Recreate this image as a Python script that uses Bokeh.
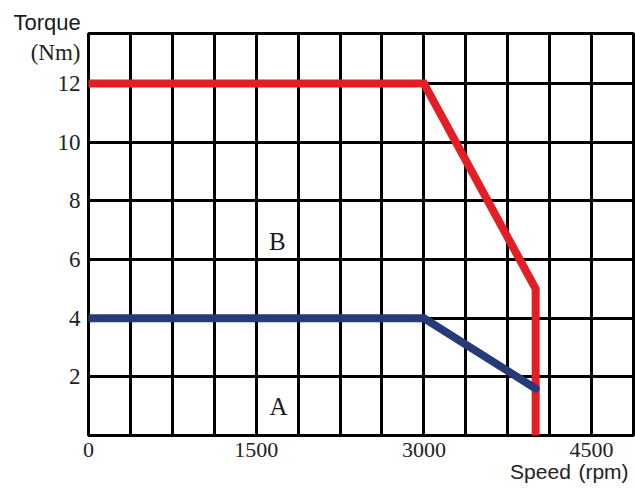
from bokeh.plotting import figure
from bokeh.models import FixedTicker, Range1d, LinearAxis, Title
from bokeh.embed import file_html
from bokeh.resources import INLINE

# Data
speed_b_curve = [0, 3000, 4000, 4000]      # red curve (B boundary)
torque_b_curve = [12, 12, 5, 0]
speed_a_curve = [0, 3000, 4000]            # blue curve (A boundary)
torque_a_curve = [4, 4, 1.6]

x_tick_values = [0, 1500, 3000, 4500]
y_tick_values = [2, 4, 6, 8, 10, 12]
x_grid_step = 375
x_max = 4875
y_max = 13.7

y_unit_label = "(Nm)"
y_unit_pos = 13.05
x_name_labels = {4043: "Speed", 4607: "(rpm)"}
region_labels = ["B", "A"]
region_x = [1690, 1700]
region_y = [6.6, 1.0]

p = figure(width=635, height=495, output_backend="svg", toolbar_location=None,
           x_range=Range1d(0, x_max), y_range=Range1d(0, y_max),
           min_border_left=88, min_border_right=2, min_border_top=33, min_border_bottom=60)
p.background_fill_color = "white"
p.border_fill_color = "white"
p.outline_line_color = "black"
p.outline_line_width = 3

# grids
p.xgrid.ticker = FixedTicker(ticks=[i * x_grid_step for i in range(int(x_max / x_grid_step) + 1)])
p.ygrid.ticker = FixedTicker(ticks=y_tick_values)
for g in (p.xgrid, p.ygrid):
    g.grid_line_color = "black"
    g.grid_line_width = 3
    g.grid_line_alpha = 1

def style_axis(ax, font, size):
    ax.axis_line_color = None
    ax.major_tick_line_color = None
    ax.minor_tick_line_color = None
    ax.major_tick_out = 0
    ax.major_tick_in = 0
    ax.minor_tick_out = 0
    ax.minor_tick_in = 0
    ax.major_label_text_font = font
    ax.major_label_text_font_size = size
    ax.major_label_text_color = "#222222"

# axes
p.xaxis.ticker = FixedTicker(ticks=x_tick_values)
p.yaxis.ticker = FixedTicker(ticks=y_tick_values + [y_unit_pos])
p.yaxis.major_label_overrides = {y_unit_pos: y_unit_label}
style_axis(p.xaxis[0], "Liberation Serif", "22px")
style_axis(p.yaxis[0], "Liberation Serif", "23px")
p.xaxis.major_label_standoff = 7
p.yaxis.major_label_standoff = 8

name_axis = LinearAxis(ticker=FixedTicker(ticks=list(x_name_labels.keys())),
                       major_label_overrides=x_name_labels)
style_axis(name_axis, "Liberation Sans", "21px")
name_axis.major_label_standoff = 0
p.add_layout(name_axis, "below")

# y axis name
p.add_layout(Title(text="Torque", align="left", offset=-75, standoff=-2,
                   text_font="Liberation Sans", text_font_size="22px",
                   text_font_style="normal", text_color="#1a1a1a"), "above")

# curves
p.line(speed_b_curve, torque_b_curve, line_color="#e31e24", line_width=8,
       line_join="miter", line_cap="round")
p.line(speed_a_curve, torque_a_curve, line_color="#253a78", line_width=8,
       line_join="miter", line_cap="round")

# region labels
p.text(x=region_x, y=region_y, text=region_labels, text_font={"value": "Liberation Serif"},
       text_font_size="25px", text_align="center", text_baseline="middle",
       text_color="#1a1a1a")

open("out.html", "w").write(file_html(p, INLINE))
